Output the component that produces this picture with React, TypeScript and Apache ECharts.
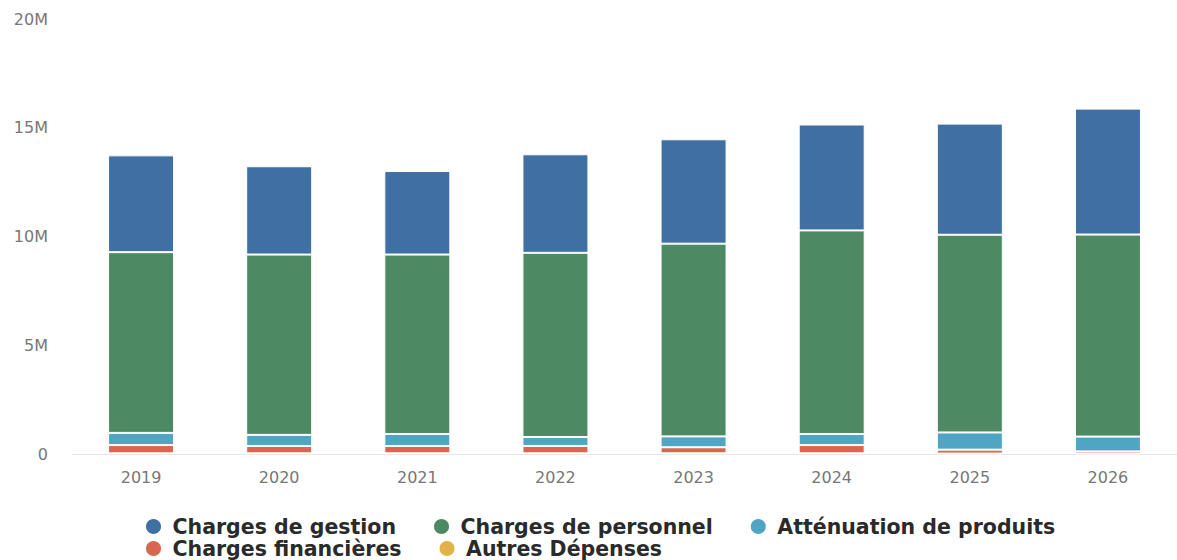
import React, { useEffect, useRef } from "react";
import * as echarts from "echarts";

const years = ["2019", "2020", "2021", "2022", "2023", "2024", "2025", "2026"];
// values in millions of euros
const chargesGestion = [4.45, 4.06, 3.84, 4.53, 4.8, 4.87, 5.11, 5.79];
const chargesPersonnel = [8.31, 8.29, 8.25, 8.47, 8.86, 9.36, 9.09, 9.29];
const attenuationProduits = [0.56, 0.51, 0.55, 0.41, 0.5, 0.51, 0.79, 0.68];
const chargesFinancieres = [0.38, 0.34, 0.34, 0.34, 0.28, 0.38, 0.18, 0.1];
const autresDepenses = [0.03, 0.03, 0.03, 0.03, 0.03, 0.03, 0.02, 0.02];
const yTicks = [0, 5, 10, 15, 20];

const colors = {
  gestion: "#3f6fa3",
  personnel: "#4d8a63",
  attenuation: "#4fa5c3",
  financieres: "#d9674f",
  autres: "#e1b24a",
};

const FONT = "DejaVu Sans";

export default function App() {
  const ref = useRef<HTMLDivElement>(null);
  useEffect(() => {
    if (!ref.current) return;
    const chart = echarts.init(ref.current, undefined, { renderer: "svg" });
    const mk = (name: string, data: number[], color: string) => ({
      name,
      type: "bar",
      stack: "total",
      data,
      barWidth: 66,
      itemStyle: { color, borderColor: "#ffffff", borderWidth: 1 },
      emphasis: { disabled: true },
    });
    const legendCommon = {
      left: 139,
      orient: "horizontal",
      icon: "circle",
      itemWidth: 28,
      itemHeight: 17,
      itemGap: 36,
      textStyle: { fontFamily: FONT, fontSize: 20.5, fontWeight: "bold", color: "#2a2a2a" },
    };
    chart.setOption({
      animation: false,
      grid: { left: 72, top: 19, width: 1114, height: 435, containLabel: false },
      legend: [
        { ...legendCommon, top: 511, data: ["Charges de gestion", "Charges de personnel", "Atténuation de produits"] },
        { ...legendCommon, top: 533, data: ["Charges financières", "Autres Dépenses"] },
      ],
      xAxis: {
        type: "category",
        data: years,
        axisLine: { show: true, lineStyle: { color: "#e4e4e4", width: 1 } },
        axisTick: { show: false },
        axisLabel: { fontFamily: FONT, fontSize: 16, color: "#777777", margin: 15 },
      },
      yAxis: {
        type: "value",
        min: yTicks[0],
        max: yTicks[yTicks.length - 1],
        interval: 5,
        splitLine: { show: false },
        axisLine: { show: false },
        axisTick: { show: false },
        axisLabel: {
          fontFamily: FONT,
          fontSize: 16,
          color: "#777777",
          margin: 24,
          formatter: (v: number) => (v === 0 ? "0" : `${v}M`),
        },
      },
      series: [
        mk("Autres Dépenses", autresDepenses, colors.autres),
        mk("Charges financières", chargesFinancieres, colors.financieres),
        mk("Atténuation de produits", attenuationProduits, colors.attenuation),
        mk("Charges de personnel", chargesPersonnel, colors.personnel),
        mk("Charges de gestion", chargesGestion, colors.gestion),
      ],
    });
    return () => chart.dispose();
  }, []);
  return (
    <div
      ref={ref}
      style={{ position: "absolute", left: 0, top: 0, width: 1177, height: 560, background: "#ffffff" }}
    />
  );
}
